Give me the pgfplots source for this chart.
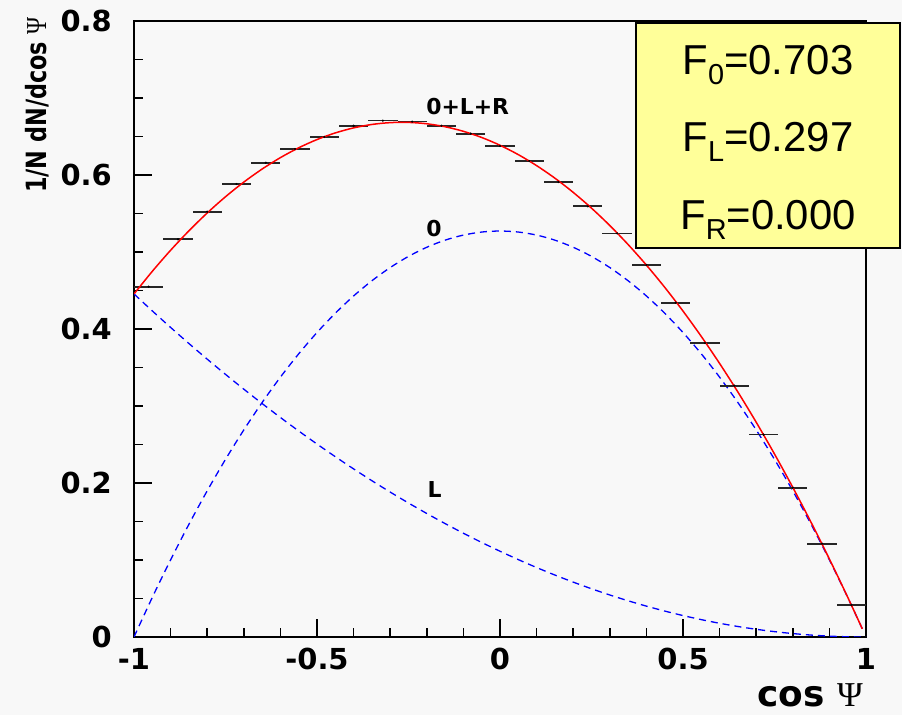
\documentclass[border=0pt]{standalone}
\usepackage{fontspec}
\setmainfont{Liberation Sans}
\newfontfamily\boldsans{DejaVu Sans}
\newfontfamily\greek{Liberation Serif}
\usepackage{graphicx}
\usepackage{pgfplots}
\usepackage{pgfplotstable}
\pgfplotsset{compat=1.18}

\definecolor{canvas}{RGB}{248,248,248}
\definecolor{boxyellow}{RGB}{255,255,153}

% Helicity components of the cos(Psi) distribution:
% longitudinal (zero), left-handed (left) and their sum (total)
\pgfplotstableread{
x      zero     left     total
-1.00  0.00000  0.44550  0.44550
-0.95  0.05141  0.42350  0.47491
-0.90  0.10018  0.40206  0.50224
-0.85  0.14631  0.38118  0.52749
-0.80  0.18981  0.36086  0.55067
-0.75  0.23067  0.34109  0.57176
-0.70  0.26890  0.32187  0.59077
-0.65  0.30449  0.30322  0.60771
-0.60  0.33744  0.28512  0.62256
-0.55  0.36776  0.26758  0.63534
-0.50  0.39544  0.25059  0.64603
-0.45  0.42048  0.23417  0.65465
-0.40  0.44289  0.21830  0.66119
-0.35  0.46266  0.20298  0.66564
-0.30  0.47980  0.18822  0.66802
-0.25  0.49430  0.17402  0.66832
-0.20  0.50616  0.16038  0.66654
-0.15  0.51539  0.14729  0.66268
-0.10  0.52198  0.13476  0.65674
-0.05  0.52593  0.12279  0.64872
 0.00  0.52725  0.11138  0.63863
 0.05  0.52593  0.10052  0.62645
 0.10  0.52198  0.09021  0.61219
 0.15  0.51539  0.08047  0.59586
 0.20  0.50616  0.07128  0.57744
 0.25  0.49430  0.06265  0.55695
 0.30  0.47980  0.05457  0.53437
 0.35  0.46266  0.04706  0.50972
 0.40  0.44289  0.04010  0.48299
 0.45  0.42048  0.03369  0.45417
 0.50  0.39544  0.02784  0.42328
 0.55  0.36776  0.02255  0.39031
 0.60  0.33744  0.01782  0.35526
 0.65  0.30449  0.01364  0.31813
 0.70  0.26890  0.01002  0.27892
 0.75  0.23067  0.00696  0.23763
 0.80  0.18981  0.00446  0.19427
 0.85  0.14631  0.00251  0.14882
 0.90  0.10018  0.00111  0.10129
 0.95  0.05141  0.00028  0.05169
 0.99  0.01049  0.00001  0.01050
 1.00  0.00000  0.00000  0.00000
}\helicity

% Binned distribution: 25 bins of width 0.08
\pgfplotstableread{
x      y
-0.96  0.4550
-0.88  0.5165
-0.80  0.5524
-0.72  0.5883
-0.64  0.6160
-0.56  0.6338
-0.48  0.6494
-0.40  0.6640
-0.32  0.6706
-0.24  0.6693
-0.16  0.6640
-0.08  0.6537
 0.00  0.6377
 0.08  0.6182
 0.16  0.5909
 0.24  0.5593
 0.32  0.5242
 0.40  0.4831
 0.48  0.4342
 0.56  0.3818
 0.64  0.3264
 0.72  0.2628
 0.80  0.1939
 0.88  0.1212
 0.96  0.0416
}\bins

\begin{document}
\begin{tikzpicture}
\fill[canvas] (0,0) rectangle (902bp,715bp);
\begin{axis}[
  at={(134bp,78bp)}, anchor=south west,
  scale only axis, width=732bp, height=616bp,
  xmin=-1, xmax=1, ymin=0, ymax=0.8,
  axis line style={line width=1.8bp, black},
  xtick={-1,-0.5,0,0.5,1}, xticklabels={-1,-0.5,0,0.5,1},
  ytick={0,0.2,0.4,0.6,0.8}, yticklabels={0,0.2,0.4,0.6,0.8},
  minor x tick num=4, minor y tick num=3,
  tick align=inside, xtick pos=bottom, ytick pos=left,
  major tick length=18bp, minor tick length=9bp,
  tick style={line width=1.6bp, black},
  xticklabel style={font=\boldsans\bfseries\fontsize{29}{29}\selectfont,
    anchor=north, inner sep=0pt, yshift=-11bp},
  yticklabel style={font=\boldsans\bfseries\fontsize{29}{29}\selectfont,
    anchor=east, inner sep=0pt, xshift=-22bp},
]
% component curves
\addplot[blue, line width=1.3bp, dash pattern=on 7bp off 5bp, smooth,
  restrict x to domain=-1:0.995] table[x=x, y=zero] {\helicity};
\addplot[blue, line width=1.3bp, dash pattern=on 7bp off 5bp, smooth]
  table[x=x, y=left] {\helicity};
% histogram
\addplot[only marks, mark=*, mark size=0.9bp, black,
  error bars/.cd, x dir=both, x fixed=0.04, error mark=none,
  error bar style={line width=1.7bp, black!85}]
  table[x=x, y=y] {\bins};
% sum of the components
\addplot[red, line width=1.5bp, smooth, restrict x to domain=-1:0.995]
  table[x=x, y=total] {\helicity};

\node[anchor=west, inner sep=0pt, font=\boldsans\bfseries\fontsize{22}{22}\selectfont]
  at (axis cs:-0.202,0.689) {0+L+R};
\node[anchor=west, inner sep=0pt, font=\boldsans\bfseries\fontsize{22}{22}\selectfont]
  at (axis cs:-0.202,0.530) {0};
\node[anchor=west, inner sep=0pt, font=\boldsans\bfseries\fontsize{22}{22}\selectfont]
  at (axis cs:-0.198,0.191) {L};
\end{axis}

% axis titles
\node[anchor=base east, inner sep=0pt] at (863bp,8.3bp)
  {\boldsans\bfseries\fontsize{36}{36}\selectfont cos {\greek\mdseries\fontsize{35}{35}\selectfont Ψ}};
\node[rotate=90, anchor=base east, inner sep=0pt] at (46bp,698bp)
  {\scalebox{0.8}[1]{\boldsans\bfseries\fontsize{28}{28}\selectfont 1/N dN/dcos {\greek\mdseries\fontsize{29}{29}\selectfont Ψ}}};

% fit results
\draw[line width=1.6bp, fill=boxyellow] (636bp,467bp) rectangle (900bp,692bp);
\node[anchor=base, inner sep=0pt] at (768bp,640bp)
  {\fontsize{42}{42}\selectfont F\raisebox{-10bp}{\fontsize{29}{29}\selectfont 0}=0.703};
\node[anchor=base, inner sep=0pt] at (768bp,563bp)
  {\fontsize{42}{42}\selectfont F\raisebox{-10bp}{\fontsize{29}{29}\selectfont L}=0.297};
\node[anchor=base, inner sep=0pt] at (768bp,485bp)
  {\fontsize{42}{42}\selectfont F\raisebox{-10bp}{\fontsize{29}{29}\selectfont R}=0.000};

\pgfresetboundingbox
\useasboundingbox (0,0) rectangle (902bp,715bp);
\end{tikzpicture}
\end{document}
